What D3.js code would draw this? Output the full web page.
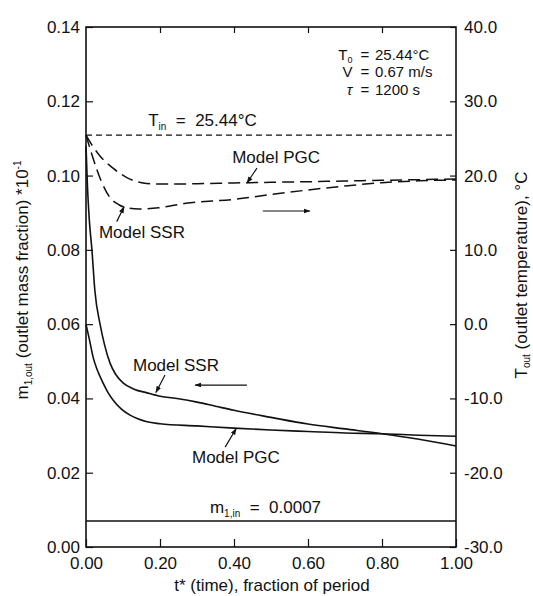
<!DOCTYPE html>
<html>
<head>
<meta charset="utf-8">
<script src="https://cdn.jsdelivr.net/npm/d3@7"></script>
<style>
  body { margin: 0; background: #fff; }
  svg text { font-family: 'Liberation Sans', Arial, Helvetica, sans-serif; fill: #111; white-space: pre; }
</style>
</head>
<body>
<div id="container"></div>
<script>
// DATA (t* = fraction of period)
const massSSR = [[0, 0.108], [0.004, 0.097], [0.009, 0.088], [0.016, 0.080], [0.024, 0.069],
  [0.038, 0.060], [0.05, 0.0545], [0.065, 0.0495], [0.08, 0.0465], [0.1, 0.0442], [0.13, 0.0425],
  [0.165, 0.0415], [0.2, 0.0406], [0.25, 0.0399], [0.3, 0.039], [0.35, 0.0379], [0.4, 0.0368],
  [0.5, 0.0349], [0.6, 0.0331], [0.7, 0.0318], [0.8, 0.0305], [0.9, 0.029], [1.0, 0.0272]]
const massPGC = [[0, 0.060], [0.01, 0.0555], [0.019, 0.0512], [0.03, 0.0478], [0.046, 0.0442],
  [0.06, 0.0415], [0.073, 0.0396], [0.095, 0.0372], [0.119, 0.0355], [0.14, 0.0345], [0.165, 0.0337],
  [0.2, 0.0332], [0.3, 0.0326], [0.4, 0.0320], [0.5, 0.0315], [0.6, 0.0311], [0.7, 0.0307],
  [0.8, 0.0305], [0.9, 0.0301], [1.0, 0.0298]]
const tempPGC = [[0, 25.44], [0.015, 24.2], [0.035, 22.8], [0.073, 21.0], [0.108, 19.8], [0.154, 19.0],
  [0.2, 18.85], [0.3, 18.9], [0.4, 19.0], [0.5, 19.1], [0.6, 19.17], [0.7, 19.27], [0.8, 19.36],
  [0.9, 19.45], [1.0, 19.54]]
const tempSSR = [[0, 25.44], [0.018, 22.5], [0.04, 19.4], [0.063, 17.16], [0.09, 16.04], [0.117, 15.6],
  [0.143, 15.5], [0.197, 15.67], [0.27, 16.27], [0.4, 16.8], [0.5, 17.45], [0.6, 18.06], [0.7, 18.6],
  [0.8, 19.04], [0.9, 19.3], [1.0, 19.4]]
const tIn = 25.44
const mIn = 0.007

const xTicks = [0, 0.2, 0.4, 0.6, 0.8, 1.0]
const massTicks = [0, 0.02, 0.04, 0.06, 0.08, 0.10, 0.12, 0.14]
const tempTicks = [-30, -20, -10, 0, 10, 20, 30, 40]

//BOX
const w = 533
const h = 596
const mLeft = 86, mRight = 456, mTop = 27, mBottom = 547

const xscale = d3.scaleLinear().domain([0, 1]).range([mLeft, mRight])
const mscale = d3.scaleLinear().domain([0, 0.14]).range([mBottom, mTop])
const tscale = d3.scaleLinear().domain([-30, 40]).range([mBottom, mTop])

const svg = d3.select('#container')
  .append('svg')
  .attr('width', w)
  .attr('height', h)

svg.append('defs').append('marker')
  .attr('id', 'head')
  .attr('viewBox', '0 0 10 10')
  .attr('refX', 9).attr('refY', 5)
  .attr('markerWidth', 7).attr('markerHeight', 7)
  .attr('markerUnits', 'userSpaceOnUse')
  .attr('orient', 'auto')
  .append('path')
  .attr('d', 'M0,1.5 L10,5 L0,8.5 Z')
  .attr('fill', '#111')

//AXES
const fontSize = 17

svg.append('g')
  .attr('transform', 'translate(' + mLeft + ',0)')
  .call(d3.axisLeft(mscale).tickValues(massTicks).tickFormat(d => d.toFixed(2))
    .tickSizeInner(-7).tickSizeOuter(0).tickPadding(6))
  .call(g => g.select('.domain').remove())

svg.append('g')
  .attr('transform', 'translate(' + mRight + ',0)')
  .call(d3.axisRight(tscale).tickValues(tempTicks).tickFormat(d => d.toFixed(1))
    .tickSizeInner(-6).tickSizeOuter(0).tickPadding(8))
  .call(g => g.select('.domain').remove())

svg.append('g')
  .attr('transform', 'translate(0,' + mBottom + ')')
  .call(d3.axisBottom(xscale).tickValues(xTicks).tickFormat(d => d.toFixed(2))
    .tickSizeInner(-8).tickSizeOuter(0).tickPadding(10))
  .call(g => g.select('.domain').remove())

svg.append('g')
  .attr('transform', 'translate(0,' + mTop + ')')
  .call(d3.axisTop(xscale).tickValues(xTicks.slice(1, -1)).tickFormat('')
    .tickSizeInner(-6).tickSizeOuter(0))
  .call(g => g.select('.domain').remove())

svg.selectAll('.tick line').attr('stroke', '#111').attr('stroke-width', 1.2)
svg.selectAll('.tick text').attr('font-size', fontSize).attr('fill', '#111')
  .style('font-family', "'Liberation Sans', Arial, sans-serif")

svg.append('rect')
  .attr('x', mLeft).attr('y', mTop)
  .attr('width', mRight - mLeft).attr('height', mBottom - mTop)
  .attr('fill', 'none').attr('stroke', '#111').attr('stroke-width', 1.6)

//LINES
const massLine = d3.line().x(d => xscale(d[0])).y(d => mscale(d[1])).curve(d3.curveMonotoneX)
const tempLine = d3.line().x(d => xscale(d[0])).y(d => tscale(d[1])).curve(d3.curveMonotoneX)

svg.append('line')
  .attr('x1', xscale(0)).attr('x2', xscale(1))
  .attr('y1', mscale(mIn)).attr('y2', mscale(mIn))
  .attr('stroke', '#111').attr('stroke-width', 1.6)

svg.append('line')
  .attr('x1', xscale(0)).attr('x2', xscale(1))
  .attr('y1', tscale(tIn)).attr('y2', tscale(tIn))
  .attr('stroke', '#111').attr('stroke-width', 1.2)
  .attr('stroke-dasharray', '6,4')

svg.selectAll('path.mass')
  .data([massSSR, massPGC])
  .enter()
  .append('path')
  .attr('class', 'mass')
  .attr('d', massLine)
  .attr('fill', 'none').attr('stroke', '#111').attr('stroke-width', 1.6)

svg.selectAll('path.temp')
  .data([tempPGC, tempSSR])
  .enter()
  .append('path')
  .attr('class', 'temp')
  .attr('d', tempLine)
  .attr('fill', 'none').attr('stroke', '#111').attr('stroke-width', 1.5)
  .attr('stroke-dasharray', '12,6')

//ANNOTATIONS (positions in data units)
// parts: plain strings, {sub: '..'} or {sup: '..'}
function label(x, y, parts, anchor) {
  const t = svg.append('text')
    .attr('x', x).attr('y', y)
    .attr('font-size', fontSize)
    .attr('text-anchor', anchor || 'start')
  let shift = 0
  parts.forEach(p => {
    if (typeof p === 'string') {
      t.append('tspan').attr('dy', -shift).text(p)
      shift = 0
    } else {
      const d = p.sup ? -7 : 4
      t.append('tspan').attr('font-size', 10).attr('dy', d - shift).text(p.sup || p.sub)
      shift = d
    }
  })
  return t
}

function leader(x1, y1, x2, y2) {
  svg.append('line')
    .attr('x1', x1).attr('y1', y1).attr('x2', x2).attr('y2', y2)
    .attr('stroke', '#111').attr('stroke-width', 1.2)
    .attr('marker-end', 'url(#head)')
}

// top right conditions: one text block, '=' signs lined up
const cond = svg.append('text').attr('font-size', 15)
const rows = [
  { y: tscale(35.6), name: 'T', sub: '0', value: '25.44\u00B0C' },
  { y: tscale(33.25), name: 'V', value: '0.67 m/s' },
  { y: tscale(30.9), name: '\u03C4', italic: true, value: '1200 s' }
]
rows.forEach(r => {
  const n = cond.append('tspan').attr('x', xscale(0.72)).attr('y', r.y)
    .attr('text-anchor', 'end').text(r.name)
  if (r.italic) n.attr('font-style', 'italic')
  if (r.sub) n.append('tspan').attr('font-size', 9).attr('dy', 3).text(r.sub)
  cond.append('tspan').attr('x', xscale(0.754)).attr('y', r.y)
    .attr('text-anchor', 'middle').text('=')
  cond.append('tspan').attr('x', xscale(0.781)).attr('y', r.y)
    .attr('text-anchor', 'start').text(r.value)
})

label(xscale(0.168), tscale(26.67), ['T', { sub: 'in' }, '  =  25.44\u00B0C'])

label(xscale(0.395), tscale(21.7), ['Model PGC'])
leader(xscale(0.462), tscale(21.0), xscale(0.435), tscale(19.0))

label(xscale(0.035), tscale(11.6), ['Model SSR'])
leader(xscale(0.083), tscale(13.8), xscale(0.103), tscale(15.8))

leader(xscale(0.478), tscale(15.23), xscale(0.605), tscale(15.23))

label(xscale(0.127), mscale(0.0475), ['Model SSR'])
leader(xscale(0.2135), mscale(0.0463), xscale(0.189), mscale(0.0416))

leader(xscale(0.435), mscale(0.0436), xscale(0.295), mscale(0.0436))

label(xscale(0.2865), mscale(0.0226), ['Model PGC'])
leader(xscale(0.376), mscale(0.0269), xscale(0.406), mscale(0.0319))

label(xscale(0.335), mscale(0.0092), ['m', { sub: '1,in' }, '  =  0.0007'])

//AXIS TITLES
svg.append('text')
  .attr('x', (mLeft + mRight) / 2 + 1).attr('y', 591)
  .attr('font-size', 17).attr('text-anchor', 'middle')
  .text('t* (time), fraction of period')

const yl = svg.append('text')
  .attr('transform', 'translate(28,280) rotate(-90)')
  .attr('font-size', 17).attr('text-anchor', 'middle')
yl.append('tspan').text('m')
yl.append('tspan').attr('font-size', 10).attr('dy', 4).text('1,out')
yl.append('tspan').attr('dy', -4).text(' (outlet mass fraction) *10')
yl.append('tspan').attr('font-size', 10).attr('dy', -7).text('-1')

const yr = svg.append('text')
  .attr('transform', 'translate(527,275) rotate(-90)')
  .attr('font-size', 17).attr('text-anchor', 'middle')
yr.append('tspan').text('T')
yr.append('tspan').attr('font-size', 10).attr('dy', 3).text('out')
yr.append('tspan').attr('dy', -3).text(' (outlet temperature), \u00B0C')
</script>
</body>
</html>
